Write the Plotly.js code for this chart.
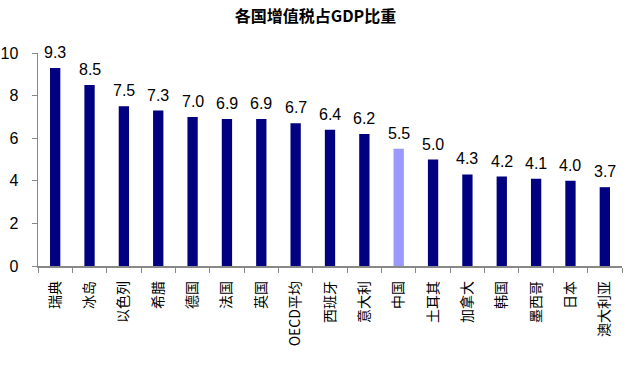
<!DOCTYPE html>
<html>
<head>
<meta charset="utf-8">
<script src="https://cdn.plot.ly/plotly-3.0.1.min.js"></script>
<style>html,body{margin:0;padding:0;background:#fff;}#chart{width:631px;height:369px;}</style>
</head>
<body>
<div id="chart"></div>
<script>
const countries = ["瑞典","冰岛","以色列","希腊","德国","法国","英国","OECD平均","西班牙","意大利","中国","土耳其","加拿大","韩国","墨西哥","日本","澳大利亚"];
const vatShare = [9.3,8.5,7.5,7.3,7.0,6.9,6.9,6.7,6.4,6.2,5.5,5.0,4.3,4.2,4.1,4.0,3.7];
const highlight = "中国";
const baseColor = "#000080";
const highlightColor = "#9999FF";

const colors = countries.map(c => c === highlight ? highlightColor : baseColor);
const numFont = {family: "Liberation Sans, Arial, sans-serif", size: 16, color: "#000"};

const trace = {
  type: "bar",
  x: countries,
  y: vatShare,
  width: 0.3,
  marker: {color: colors},
  cliponaxis: false,
  hoverinfo: "none"
};

const valueLabels = countries.map((c, i) => ({
  x: c, y: vatShare[i], xref: "x", yref: "y",
  text: vatShare[i].toFixed(1),
  showarrow: false, yanchor: "bottom", yshift: 5,
  font: numFont
}));

const layout = {
  width: 631, height: 369,
  margin: {l: 38, r: 9, t: 53, b: 103},
  paper_bgcolor: "#fff", plot_bgcolor: "#fff",
  title: {text: "<b>各国增值税占GDP比重</b>", x: 0.5, xanchor: "center", y: 0.955, yanchor: "middle",
          font: {family: "Noto Sans CJK SC, sans-serif", size: 16, color: "#000"}},
  showlegend: false,
  annotations: valueLabels,
  xaxis: {
    type: "category",
    tickangle: -90,
    tickson: "boundaries",
    ticks: "outside", ticklen: 5, tickcolor: "#888",
    ticklabelstandoff: 8,
    showline: true, linecolor: "#888", linewidth: 1.5,
    showgrid: false,
    tickfont: {family: "Noto Sans CJK SC, sans-serif", size: 14, color: "#000"}
  },
  yaxis: {
    range: [0, 10], dtick: 2,
    ticks: "outside", ticklen: 5, tickcolor: "#888",
    ticklabelstandoff: 10,
    showline: true, linecolor: "#888", linewidth: 1.5,
    showgrid: false, zeroline: false,
    tickfont: numFont
  }
};

Plotly.newPlot("chart", [trace], layout, {displayModeBar: false, staticPlot: true});
</script>
</body>
</html>
